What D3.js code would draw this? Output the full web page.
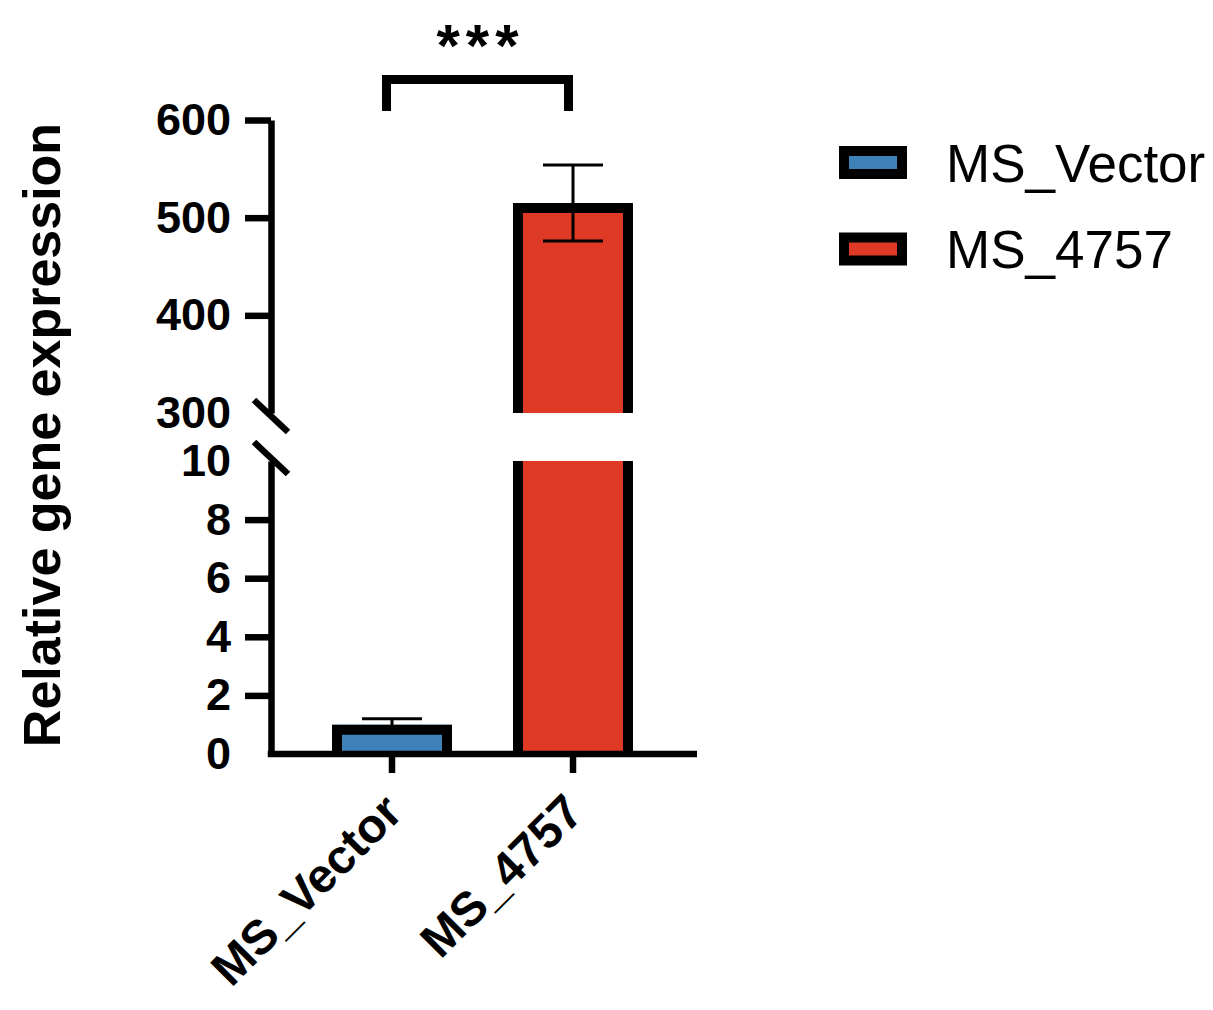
<!DOCTYPE html>
<html>
<head>
<meta charset="utf-8">
<script src="https://cdn.jsdelivr.net/npm/d3@7"></script>
<style>
  body { margin: 0; background: #fff; }
  text { font-family: 'Liberation Sans', Arial, sans-serif; }
</style>
</head>
<body>
<div class="wrapper"></div>
<script>
const groups = ['MS_Vector', 'MS_4757']
const means = [1.0, 515]
const sds = [0.2, 39]
const colors = ['#3e80b8', '#de3a26']
const lowTicks = [0, 2, 4, 6, 8, 10]
const highTicks = [300, 400, 500, 600]
const lowDomain = [0, 10]
const highDomain = [300, 600]
const yTitle = 'Relative gene expression'
const sigLabel = '***'

const width = 1213,
  height = 1010

const svg = d3.select('.wrapper')
  .append('svg')
  .attr('width', width)
  .attr('height', height)

const axisX = 271
const axisW = 6.5
const border = 10

// two y segments for the broken axis
const yLow = d3.scaleLinear().domain(lowDomain).range([754, 461])
const yHigh = d3.scaleLinear().domain(highDomain).range([413, 120])

const x = d3.scaleBand()
  .domain(groups)
  .range([301.5, 663.5])
  .paddingInner(0.337)
  .paddingOuter(0.1685)

// pick the segment a value falls in
function yOf(v) {
  return v > lowDomain[1] ? yHigh(Math.max(v, highDomain[0])) : yLow(v)
}

// bars: fill pieces, then borders (drawn inside the bar)
groups.forEach((g, i) => {
  const x0 = x(g), bw = x.bandwidth(), h = border / 2
  const pieces = means[i] > lowDomain[1]
    ? [[yLow(0), yLow(lowDomain[1]), false], [yHigh(highDomain[0]), yHigh(means[i]), true]]
    : [[yLow(0), yLow(means[i]), true]]
  pieces.forEach(([yb, yt, topEdge]) => {
    svg.append('rect')
      .attr('x', x0).attr('y', yt)
      .attr('width', bw).attr('height', yb - yt)
      .attr('fill', colors[i])
    const p = topEdge
      ? `M ${x0 + h} ${yb} V ${yt + h} H ${x0 + bw - h} V ${yb}`
      : `M ${x0 + h} ${yb} V ${yt} M ${x0 + bw - h} ${yt} V ${yb}`
    svg.append('path')
      .attr('d', p)
      .attr('fill', 'none')
      .attr('stroke', '#000')
      .attr('stroke-width', border)
      .attr('stroke-linecap', 'butt')
      .attr('stroke-linejoin', 'miter')
  })
})

// error bars
groups.forEach((g, i) => {
  const cx = x(g) + x.bandwidth() / 2
  const top = yOf(means[i] + sds[i]), bot = yOf(means[i] - sds[i])
  const e = svg.append('g').attr('stroke', '#000').attr('stroke-width', 3)
  e.append('line').attr('x1', cx).attr('x2', cx).attr('y1', top).attr('y2', bot)
  e.append('line').attr('x1', cx - 30).attr('x2', cx + 30).attr('y1', top).attr('y2', top)
  e.append('line').attr('x1', cx - 30).attr('x2', cx + 30).attr('y1', bot).attr('y2', bot)
})

// y axes (no ticks at the break ends)
function drawY(scale, ticks) {
  const a = svg.append('g')
    .attr('transform', `translate(${axisX}, 0)`)
    .call(d3.axisLeft(scale).tickValues(ticks).tickSize(26).tickPadding(14).tickSizeOuter(0))
  a.select('.domain').attr('stroke-width', axisW)
  a.selectAll('.tick line').attr('stroke-width', axisW)
  a.selectAll('.tick text')
    .attr('font-size', 45).attr('font-weight', 'bold').attr('fill', '#000')
    .attr('font-family', "'Liberation Sans', Arial, sans-serif")
  return a
}
const aLow = drawY(yLow, lowTicks)
const aHigh = drawY(yHigh, highTicks)
aLow.selectAll('.tick').filter(d => d === lowDomain[1]).select('line').remove()
aHigh.selectAll('.tick').filter(d => d === highDomain[0]).select('line').remove()
aLow.selectAll('.tick').filter(d => d === 0).select('line').remove()

// break slashes
;[yHigh(highDomain[0]) + 3, yLow(lowDomain[1]) - 3].forEach(yy => {
  svg.append('line')
    .attr('x1', axisX - 17).attr('y1', yy - 16)
    .attr('x2', axisX + 17).attr('y2', yy + 16)
    .attr('stroke', '#000').attr('stroke-width', axisW)
})

// x axis
const xa = svg.append('g')
  .attr('transform', `translate(0, ${yLow(0)})`)
xa.append('line')
  .attr('x1', axisX - axisW / 2).attr('x2', 697)
  .attr('stroke', '#000').attr('stroke-width', axisW)
groups.forEach(g => {
  const cx = x(g) + x.bandwidth() / 2
  xa.append('line').attr('x1', cx).attr('x2', cx).attr('y1', 0).attr('y2', 19)
    .attr('stroke', '#000').attr('stroke-width', axisW)
  xa.append('text')
    .attr('transform', `translate(${cx - 11}, 37) rotate(-45)`)
    .attr('text-anchor', 'end')
    .attr('dy', '0.7em')
    .attr('font-size', 48).attr('font-weight', 'bold')
    .text(g)
})

// y title
svg.append('text')
  .attr('transform', `translate(60, 435) rotate(-90)`)
  .attr('text-anchor', 'middle')
  .attr('font-size', 52).attr('font-weight', 'bold')
  .text(yTitle)

// significance bracket
const c1 = x(groups[0]) + x.bandwidth() / 2 - 5.5
const c2 = x(groups[1]) + x.bandwidth() / 2 - 4.5
svg.append('path')
  .attr('d', `M ${c1} 111 V 79.5 H ${c2} V 111`)
  .attr('fill', 'none').attr('stroke', '#000').attr('stroke-width', 9)
  .attr('stroke-linejoin', 'miter')
svg.append('text')
  .attr('x', (c1 + c2) / 2 + 3).attr('y', 66)
  .attr('text-anchor', 'middle')
  .attr('font-size', 60).attr('font-weight', 'bold')
  .attr('letter-spacing', 6)
  .text(sigLabel)

// legend
const lg = svg.append('g')
groups.forEach((g, i) => {
  const cy = 162.5 + i * 86.5
  lg.append('rect')
    .attr('x', 844).attr('y', cy - 11.5)
    .attr('width', 58).attr('height', 23)
    .attr('fill', colors[i]).attr('stroke', '#000').attr('stroke-width', border)
  lg.append('text')
    .attr('x', 946).attr('y', cy + 19)
    .attr('font-size', 53)
    .text(g)
})
</script>
</body>
</html>
